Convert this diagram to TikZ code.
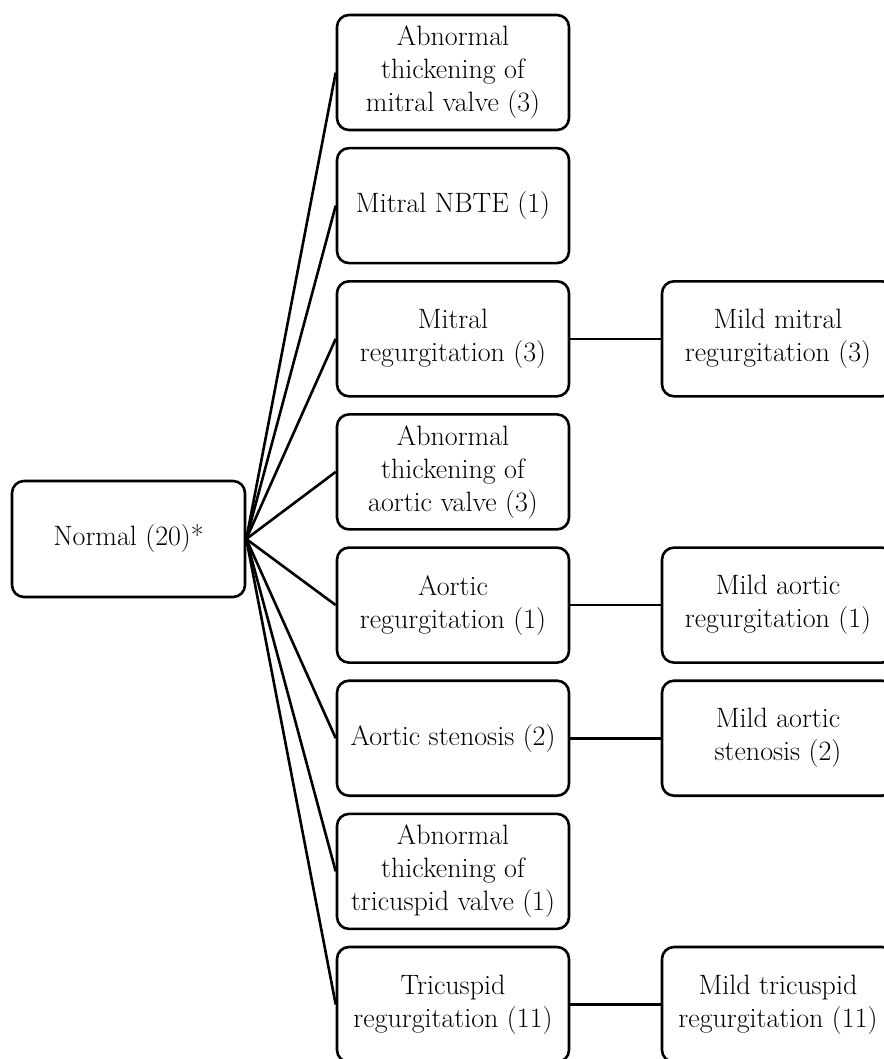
\documentclass[tikz,border=0pt]{standalone}
\usepackage{fontspec}
\setmainfont{Latin Modern Roman}
\begin{document}
\begin{tikzpicture}[x=1pt,y=-1pt,
  box/.style={draw, line width=2.6pt, rounded corners=12pt,
    minimum width=232pt, minimum height=115pt, align=center,
    inner sep=0pt, font=\fontsize{28}{33}\selectfont},
  link/.style={line width=2.6pt}]
\useasboundingbox (0,0) rectangle (883,1059);

% root
\node[box, minimum width=233pt, minimum height=116pt] (root) at (128.5,539) {Normal (20)*};

% findings
\node[box] (m1) at (453,72.5)  {Abnormal\\thickening of\\mitral valve (3)};
\node[box] (m2) at (453,205.6) {Mitral NBTE (1)};
\node[box] (m3) at (453,338.8) {Mitral\\regurgitation (3)};
\node[box] (m4) at (453,471.9) {Abnormal\\thickening of\\aortic valve (3)};
\node[box] (m5) at (453,605.1) {Aortic\\regurgitation (1)};
\node[box] (m6) at (453,738.2) {Aortic stenosis (2)};
\node[box] (m7) at (453,871.4) {Abnormal\\thickening of\\tricuspid valve (1)};
\node[box] (m8) at (453,1004.5) {Tricuspid\\regurgitation (11)};

% severity
\node[box] (s3) at (778,338.8) {Mild mitral\\regurgitation (3)};
\node[box] (s5) at (778,605.1) {Mild aortic\\regurgitation (1)};
\node[box] (s6) at (778,738.2) {Mild aortic\\stenosis (2)};
\node[box] (s8) at (778,1004.5) {Mild tricuspid\\regurgitation (11)};

\foreach \i in {1,...,8} \draw[link] (root.east) -- (m\i.west);
\foreach \i in {3,5,6,8} \draw[link] (m\i.east) -- (s\i.west);
\end{tikzpicture}
\end{document}
